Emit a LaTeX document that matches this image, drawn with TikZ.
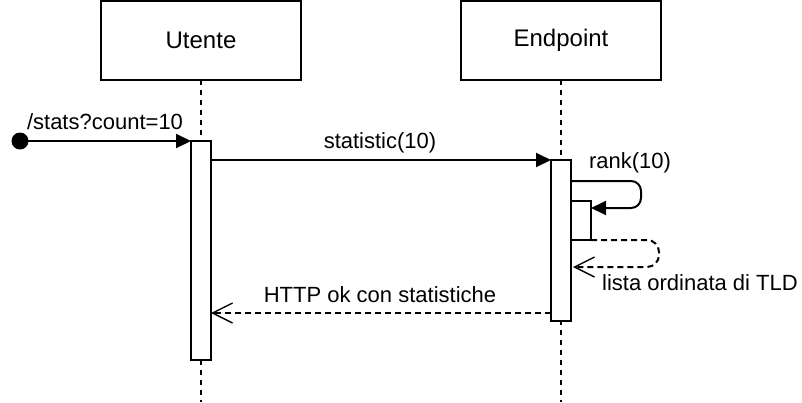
\documentclass[tikz,border=0pt]{standalone}
\usepackage{fontspec}
\setmainfont{Liberation Sans}
\usetikzlibrary{arrows.meta,positioning}

\begin{document}
\begin{tikzpicture}[x=1pt,y=-1pt,line width=2pt,
    actor/.style={draw,outer sep=0pt,minimum width=200pt,minimum height=79pt,
      font=\fontsize{24}{28}\selectfont},
    lifeline/.style={dash pattern=on 5pt off 5pt},
    bar/.style={draw,fill=white,outer sep=0pt,inner sep=0pt,minimum width=20pt},
    call/.style={-{Triangle[length=15pt,width=14pt]}},
    reply/.style={dash pattern=on 6pt off 4pt,
      -{Straight Barb[length=20pt,width=20pt,line width=1.4pt]}},
    lbl/.style={font=\fontsize{22}{26}\selectfont,inner sep=0pt}]
    \useasboundingbox (0,0) rectangle (802,402);
    \node[actor] (utente) at (201,40.5) {Utente};
    \node[actor] (endpoint) at (561,40.5) {Endpoint};
    \coordinate (start) at (20,141);
    \coordinate (bottom) at (0,402);
    \draw[lifeline] (utente.south) -- (utente.south |- bottom);
    \draw[lifeline] (endpoint.south) -- (endpoint.south |- bottom);

    \node[bar, anchor=north, minimum height=219pt] (actU) at (utente.south |- start) {};
    \node[bar, anchor=north, minimum height=161pt] (actE) at ([yshift=-80pt]endpoint.south) {};
    \node[bar, anchor=north west, minimum height=39pt] (actR) at ([yshift=-41pt]actE.north east) {};

    \fill (start) circle (8.5pt);
    \draw[call] (start) -- (actU.north west);
    \node[lbl] (stats) at (105,122) {/stats?count=10};

    \draw[call] (actU.east |- actE.north) -- (actE.north west);
    \node[lbl] (statistic) at (380,143) {statistic(10)};

    \draw[call, rounded corners=10pt] ([yshift=-21pt]actE.north east) -- ++(70,0)
      -- ++(0,27) -- ([yshift=-7pt]actR.north east);
    \node[lbl] (rank) at (630,163) {rank(10)};

    \draw[reply, rounded corners=12pt] (actR.south east) -- ++(68,0) -- ++(0,27) -- ++(-86,0);
    \node[lbl] (lista) at (700,283) {lista ordinata di TLD};

    \coordinate (httpfrom) at ([yshift=-153pt]actE.north west);
    \draw[reply] (httpfrom) -- (httpfrom -| actU.east);
    \node[lbl] (http) at (380,295) {HTTP ok con statistiche};
\end{tikzpicture}
\end{document}
